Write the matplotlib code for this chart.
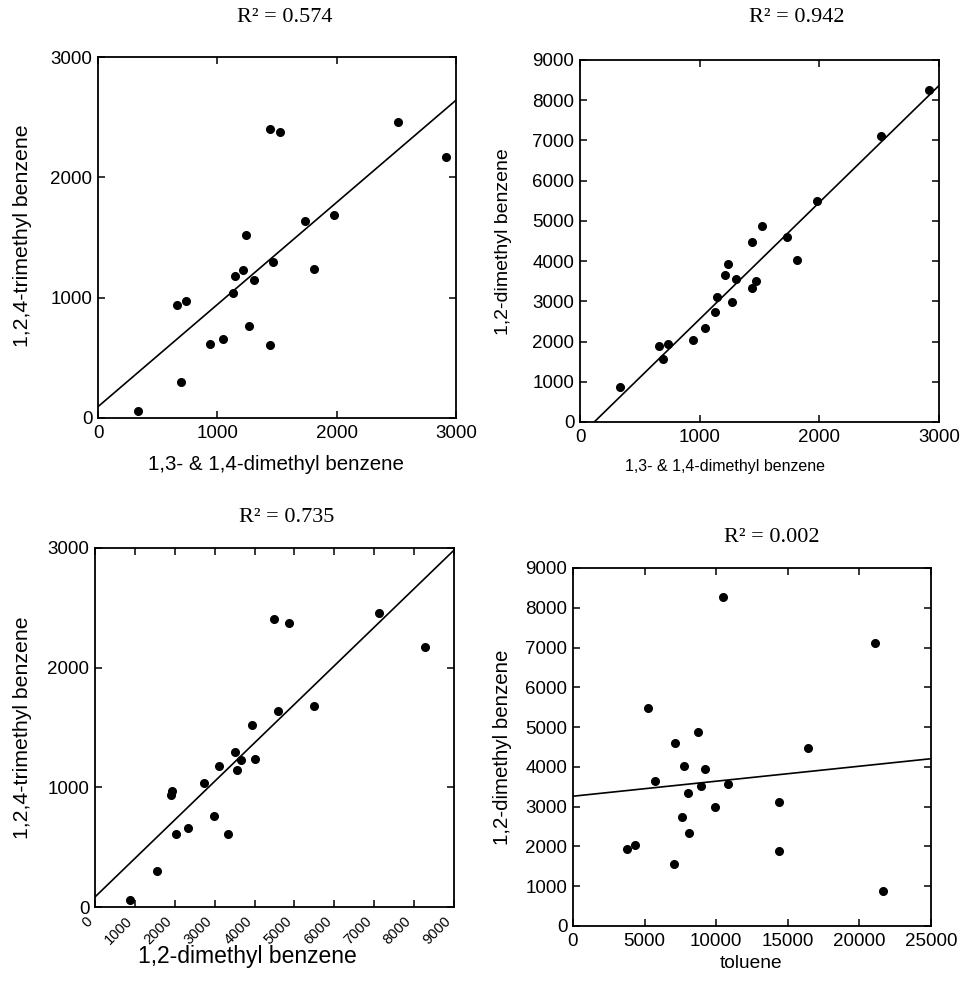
import numpy as np
import matplotlib
matplotlib.use('Agg')
import matplotlib.pyplot as plt

# values, one entry per sample (same order in every list)
mp_xylene = [332, 659, 693, 738, 941, 1048, 1132, 1149, 1214, 1237, 1268,
             1307, 1439, 1439, 1468, 1521, 1732, 1814, 1977, 2513, 2913]
o_xylene = [872, 1894, 1561, 1935, 2043, 2342, 2741, 3106, 3654, 3937, 2982,
            3563, 4485, 3339, 3513, 4875, 4593, 4020, 5490, 7118, 8264]
tmb = [61, 937, 300, 970, 612, 658, 1039, 1179, 1226, 1521, 763,
       1146, 2405, 609, 1295, 2375, 1636, 1240, 1683, 2460, 2171]
toluene = [21663, 14379, 7026, 3770, 4333, 8126, 7611, 14379, 5738, 9251, 9906,
           10820, 16393, 8056, 8970, 8712, 7096, 7775, 5269, 21077, 10468]

# regression lines as drawn in the reference
fit_intercept = [94, -345, 84, 3263]
fit_slope = [0.849, 2.903, 0.322, 0.0377]
r_squared = [0.574, 0.942, 0.735, 0.002]

x_names = ['1,3- & 1,4-dimethyl benzene', '1,3- & 1,4-dimethyl benzene',
           '1,2-dimethyl benzene', 'toluene']
y_names = ['1,2,4-trimethyl benzene', '1,2-dimethyl benzene',
           '1,2,4-trimethyl benzene', '1,2-dimethyl benzene']
x_ticks = [np.arange(0, 3001, 1000), np.arange(0, 3001, 1000),
           np.arange(0, 9001, 1000), np.arange(0, 25001, 5000)]
y_ticks = [np.arange(0, 3001, 1000), np.arange(0, 9001, 1000),
           np.arange(0, 3001, 1000), np.arange(0, 9001, 1000)]

W, H = 962.0, 983.0
# axes boxes in pixels: left, top, right, bottom
boxes = [(98, 57, 456, 418), (580, 60, 939, 422),
         (95, 548, 454, 907), (573, 568, 931, 926)]
title_pos = [(285, 18), (797, 18), (287, 517), (772, 537)]
xlabel_pos = [(276, 464), (725, 466), (247, 957), (751, 964)]
ylabel_pos = [(22, 236), (503, 242), (22, 728), (503, 747)]
xlabel_size = [14.8, 11.5, 16.5, 13.8]
ylabel_size = [15.3, 14.0, 15.3, 14.8]

sans = 'Liberation Sans'
serif = 'Liberation Serif'

fig = plt.figure(figsize=(W / 100, H / 100), dpi=100)

panels = [(mp_xylene, tmb), (mp_xylene, o_xylene), (o_xylene, tmb), (toluene, o_xylene)]

for i, (xv, yv) in enumerate(panels):
	l, t, r, b = boxes[i]
	ax = fig.add_axes([l / W, 1 - b / H, (r - l) / W, (b - t) / H])
	ax.plot(xv, yv, 'o', color='black', ms=5.5, mec='black')
	xs = np.array([0, x_ticks[i][-1]])
	ax.plot(xs, fit_intercept[i] + fit_slope[i] * xs, '-', color='black', lw=1.2)
	ax.set_xlim(0, x_ticks[i][-1])
	ax.set_ylim(0, y_ticks[i][-1])
	ax.set_xticks(x_ticks[i])
	ax.set_yticks(y_ticks[i])
	ax.tick_params(direction='in', top=True, right=True, length=5, width=1.1,
	               labelsize=13.5)
	ax.tick_params(axis='x', pad=5)
	ax.tick_params(axis='y', pad=4)
	for lab in ax.get_xticklabels() + ax.get_yticklabels():
		lab.set_family(sans)
	if i == 2:
		for lab in ax.get_xticklabels():
			lab.set_rotation(45)
			lab.set_ha('right')
			lab.set_fontsize(10.5)
	for sp in ax.spines.values():
		sp.set_linewidth(1.3)
	ax.set_xlabel(x_names[i], fontsize=xlabel_size[i], family=sans)
	ax.set_ylabel(y_names[i], fontsize=ylabel_size[i], family=sans)
	px, py = xlabel_pos[i]
	ax.xaxis.set_label_coords((px - l) / (r - l), (b - py) / (b - t))
	ax.xaxis.label.set_va('center')
	px, py = ylabel_pos[i]
	ax.yaxis.set_label_coords((px - l) / (r - l), (b - py) / (b - t))
	ax.yaxis.label.set_va('center')
	tx, ty = title_pos[i]
	fig.text(tx / W, 1 - ty / H, 'R² = %.3f' % r_squared[i], ha='center', va='center',
	         fontsize=16, family=serif)

fig.savefig('out.png', dpi=100)
